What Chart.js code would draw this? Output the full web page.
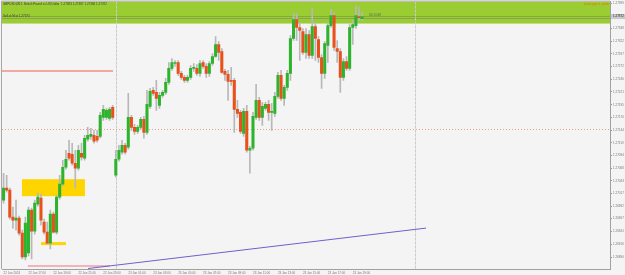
<!DOCTYPE html>
<html>
<head>
<meta charset="utf-8">
<script src="https://cdn.jsdelivr.net/npm/chart.js@4.4.1/dist/chart.umd.min.js"></script>
<style>
  html, body { margin: 0; padding: 0; background: #f4f4f4; }
  canvas { display: block; }
</style>
</head>
<body>
<canvas id="chart" width="625" height="275"></canvas>
<script>
// GBPUSD M15 candles
const opens = [
  1.27004, 1.27028, 1.27024, 1.26970, 1.26964, 1.26968, 1.26938, 1.26890, 1.26898, 1.26984,
  1.26942, 1.26996, 1.27008, 1.26960, 1.26940, 1.26918, 1.26976, 1.26940, 1.27010, 1.27036,
  1.27070, 1.27098, 1.27096, 1.27078, 1.27068, 1.27098, 1.27088, 1.27126, 1.27132, 1.27134,
  1.27132, 1.27132, 1.27170, 1.27170, 1.27168, 1.27190, 1.27054, 1.27086, 1.27100, 1.27114,
  1.27110, 1.27170, 1.27150, 1.27142, 1.27150, 1.27166, 1.27140, 1.27192, 1.27224, 1.27220,
  1.27194, 1.27214, 1.27220, 1.27240, 1.27268, 1.27278, 1.27280, 1.27258, 1.27250, 1.27244,
  1.27250, 1.27268, 1.27268, 1.27258, 1.27280, 1.27272, 1.27258, 1.27278, 1.27292, 1.27316,
  1.27302, 1.27262, 1.27256, 1.27244, 1.27244, 1.27186, 1.27180, 1.27138, 1.27182, 1.27104,
  1.27108, 1.27170, 1.27204, 1.27170, 1.27188, 1.27196, 1.27180, 1.27178, 1.27212, 1.27254,
  1.27208, 1.27230, 1.27258, 1.27328, 1.27366, 1.27350, 1.27342, 1.27300, 1.27336, 1.27294,
  1.27352, 1.27326, 1.27290, 1.27258, 1.27314, 1.27354, 1.27374, 1.27308, 1.27302, 1.27250,
  1.27282, 1.27268, 1.27350, 1.27354, 1.27372, 1.27368
];
const highs = [
  1.27058, 1.27054, 1.27028, 1.26990, 1.27004, 1.26972, 1.26944, 1.26970, 1.26990, 1.26988,
  1.27004, 1.27018, 1.27016, 1.26966, 1.26960, 1.26984, 1.26980, 1.27014, 1.27054, 1.27084,
  1.27104, 1.27124, 1.27118, 1.27104, 1.27114, 1.27118, 1.27134, 1.27150, 1.27148, 1.27144,
  1.27144, 1.27180, 1.27194, 1.27188, 1.27190, 1.27194, 1.27104, 1.27114, 1.27124, 1.27118,
  1.27218, 1.27174, 1.27156, 1.27154, 1.27170, 1.27172, 1.27224, 1.27228, 1.27230, 1.27244,
  1.27220, 1.27224, 1.27248, 1.27280, 1.27288, 1.27284, 1.27284, 1.27262, 1.27254, 1.27254,
  1.27274, 1.27278, 1.27276, 1.27284, 1.27284, 1.27278, 1.27282, 1.27298, 1.27332, 1.27322,
  1.27308, 1.27266, 1.27264, 1.27270, 1.27248, 1.27204, 1.27184, 1.27188, 1.27194, 1.27112,
  1.27180, 1.27236, 1.27210, 1.27200, 1.27200, 1.27204, 1.27198, 1.27220, 1.27260, 1.27264,
  1.27234, 1.27264, 1.27334, 1.27378, 1.27378, 1.27360, 1.27348, 1.27348, 1.27344, 1.27388,
  1.27360, 1.27332, 1.27296, 1.27322, 1.27360, 1.27386, 1.27380, 1.27324, 1.27308, 1.27288,
  1.27292, 1.27356, 1.27364, 1.27394, 1.27390, 1.27380
];
const lows = [
  1.26998, 1.27020, 1.26966, 1.26948, 1.26944, 1.26934, 1.26886, 1.26884, 1.26892, 1.26886,
  1.26936, 1.26992, 1.26954, 1.26936, 1.26916, 1.26906, 1.26938, 1.26936, 1.27006, 1.27032,
  1.27066, 1.27084, 1.27074, 1.27028, 1.27064, 1.27084, 1.27084, 1.27122, 1.27126, 1.27118,
  1.27120, 1.27128, 1.27164, 1.27166, 1.27164, 1.27166, 1.27050, 1.27082, 1.27096, 1.27096,
  1.27106, 1.27144, 1.27136, 1.27138, 1.27146, 1.27128, 1.27136, 1.27188, 1.27214, 1.27184,
  1.27188, 1.27210, 1.27216, 1.27236, 1.27264, 1.27272, 1.27254, 1.27246, 1.27240, 1.27240,
  1.27246, 1.27262, 1.27254, 1.27252, 1.27268, 1.27250, 1.27252, 1.27274, 1.27290, 1.27284,
  1.27258, 1.27244, 1.27204, 1.27234, 1.27140, 1.27170, 1.27138, 1.27132, 1.27100, 1.27058,
  1.27104, 1.27166, 1.27164, 1.27154, 1.27184, 1.27164, 1.27144, 1.27172, 1.27208, 1.27204,
  1.27194, 1.27224, 1.27244, 1.27324, 1.27324, 1.27284, 1.27296, 1.27288, 1.27288, 1.27288,
  1.27284, 1.27280, 1.27228, 1.27248, 1.27280, 1.27350, 1.27304, 1.27280, 1.27220, 1.27244,
  1.27264, 1.27264, 1.27316, 1.27348, 1.27364, 1.27364
];
const closes = [
  1.27028, 1.27024, 1.26970, 1.26964, 1.26968, 1.26938, 1.26890, 1.26958, 1.26984, 1.26942,
  1.26998, 1.27010, 1.26964, 1.26940, 1.26918, 1.26976, 1.26940, 1.27010, 1.27036, 1.27070,
  1.27086, 1.27088, 1.27078, 1.27068, 1.27104, 1.27090, 1.27128, 1.27134, 1.27136, 1.27122,
  1.27124, 1.27174, 1.27186, 1.27184, 1.27186, 1.27170, 1.27086, 1.27104, 1.27114, 1.27100,
  1.27170, 1.27150, 1.27142, 1.27150, 1.27166, 1.27140, 1.27196, 1.27222, 1.27218, 1.27208,
  1.27214, 1.27220, 1.27240, 1.27268, 1.27280, 1.27280, 1.27258, 1.27250, 1.27244, 1.27250,
  1.27268, 1.27270, 1.27258, 1.27278, 1.27272, 1.27258, 1.27278, 1.27292, 1.27316, 1.27300,
  1.27260, 1.27256, 1.27242, 1.27242, 1.27186, 1.27178, 1.27142, 1.27182, 1.27104, 1.27108,
  1.27172, 1.27204, 1.27170, 1.27192, 1.27196, 1.27180, 1.27182, 1.27212, 1.27254, 1.27208,
  1.27230, 1.27258, 1.27328, 1.27366, 1.27350, 1.27344, 1.27300, 1.27336, 1.27294, 1.27352,
  1.27328, 1.27290, 1.27258, 1.27318, 1.27354, 1.27374, 1.27310, 1.27302, 1.27250, 1.27282,
  1.27268, 1.27350, 1.27356, 1.27374, 1.27370, 1.27372
];

// axis labels
const timeLabels = [
  '22 Jan 2024', '22 Jan 17:00', '22 Jan 19:00', '22 Jan 21:00', '22 Jan 23:00',
  '23 Jan 01:00', '23 Jan 03:00', '23 Jan 05:00', '23 Jan 07:00', '23 Jan 09:00',
  '23 Jan 11:00', '23 Jan 13:00', '23 Jan 15:00', '23 Jan 17:00', '23 Jan 19:00'
];
const priceTicks = [
  1.27399, 1.27373, 1.27348, 1.27322, 1.27297, 1.27272, 1.27246, 1.27221, 1.27195, 1.27170,
  1.27144, 1.27119, 1.27094, 1.27068, 1.27043, 1.27017, 1.26992, 1.26967, 1.26941, 1.26916, 1.26890
];
const slotCount = 195;   // bars that fit in the window (incl. chart shift)
const barsPerLabel = 8;

// objects drawn on the chart (bar index / price)
const daySeparators = [36, 132];
const signalBand = [1.27402, 1.27358];
const bidAskLines = [1.27374, 1.27370];
const zoneBoxes = [
  { from: 5.9, to: 26.1, top: 1.27046, bottom: 1.27012 },
  { from: 12.0, to: 20.0, top: 1.26920, bottom: 1.26914 }
];
const resistanceLine = { from: -0.5, to: 35.1, price: 1.27262 };
const supportLine = { from: 7.8, to: 34.1, price: 1.26873 };
const pivotLevel = 1.27146;
const trendLine = [{ x: 27.1, y: 1.26867 }, { x: 135.5, y: 1.26948 }];

const headerText = 'GBPUSD,M15  British Pound vs US Dollar  1.27383 1.27387 1.27368 1.27372';
const orderText = 'Sell at M at 1.27374';
const spreadText = 'Jarak gap m: yakin';
const timerText = '06:14:48';

const UP = '#2cb52c';
const DOWN = '#e8501c';
const FONT = 'Liberation Sans, Arial, sans-serif';

const categories = Array.from({ length: slotCount }, (_, i) => String(i));
const bodies = opens.map((o, i) => [o, closes[i]]);
const wicks = lows.map((l, i) => [l, highs[i]]);
const bodyColors = opens.map((o, i) => closes[i] >= o ? UP : DOWN);

// horizontal segment between two bar positions at one price
function hLine(ctx, x, y, from, to, price, width) {
  const py = Math.round(y.getPixelForValue(price)) + (width % 2 ? 0.5 : 0);
  ctx.lineWidth = width;
  ctx.beginPath();
  ctx.moveTo(x.getPixelForValue(from), py);
  ctx.lineTo(x.getPixelForValue(to), py);
  ctx.stroke();
}

const overlayPlugin = {
  id: 'overlay',
  beforeDatasetsDraw(chart) {
    const { ctx, chartArea: a, scales: { x, y } } = chart;
    const w = a.right - a.left;
    ctx.save();

    // green signal band at the top
    const bt = y.getPixelForValue(signalBand[0]);
    const bb = y.getPixelForValue(signalBand[1]);
    ctx.fillStyle = '#9acd32';
    ctx.fillRect(a.left, bt, w, bb - bt);
    ctx.strokeStyle = 'rgba(110,120,100,0.45)';
    bidAskLines.forEach(p => hLine(ctx, x, y, -0.5, slotCount - 0.5, p, 1));

    // yellow zones
    ctx.fillStyle = '#ffd500';
    zoneBoxes.forEach(z => {
      const x1 = x.getPixelForValue(z.from), x2 = x.getPixelForValue(z.to);
      const y1 = y.getPixelForValue(z.top), y2 = y.getPixelForValue(z.bottom);
      ctx.fillRect(x1, y1, x2 - x1, y2 - y1);
    });

    // period separators
    ctx.strokeStyle = '#cacaca';
    ctx.lineWidth = 1;
    ctx.setLineDash([3, 1]);
    daySeparators.forEach(i => {
      const px = Math.round(x.getPixelForValue(i)) + 0.5;
      ctx.beginPath(); ctx.moveTo(px, a.top); ctx.lineTo(px, a.bottom); ctx.stroke();
    });

    // dotted pivot level
    ctx.strokeStyle = '#eca090';
    ctx.setLineDash([1, 2]);
    hLine(ctx, x, y, -0.5, slotCount - 0.5, pivotLevel, 1);
    ctx.setLineDash([]);

    // short horizontal levels
    ctx.strokeStyle = '#f2a8a0';
    hLine(ctx, x, y, resistanceLine.from, resistanceLine.to, resistanceLine.price, 2);
    ctx.strokeStyle = '#f4b2bc';
    hLine(ctx, x, y, supportLine.from, supportLine.to, supportLine.price, 2);
    ctx.restore();
  },
  afterDatasetsDraw(chart) {
    const { ctx, chartArea: a, scales: { x, y } } = chart;
    ctx.save();

    // trend line
    ctx.strokeStyle = '#6a62cc';
    ctx.lineWidth = 1;
    ctx.beginPath();
    ctx.moveTo(x.getPixelForValue(trendLine[0].x), y.getPixelForValue(trendLine[0].y));
    ctx.lineTo(x.getPixelForValue(trendLine[1].x), y.getPixelForValue(trendLine[1].y));
    ctx.stroke();

    // frame (left / top)
    ctx.strokeStyle = '#a8a8a8';
    ctx.beginPath();
    ctx.moveTo(a.left - 0.5, a.bottom); ctx.lineTo(a.left - 0.5, a.top - 0.5); ctx.lineTo(a.right, a.top - 0.5);
    ctx.stroke();

    // texts
    ctx.textBaseline = 'middle';
    ctx.font = '3px ' + FONT;
    ctx.fillStyle = '#3a3a3a';
    ctx.textAlign = 'left';
    ctx.fillText(headerText, a.left + 1, a.top + 2.5);
    ctx.fillText(orderText, a.left + 1, y.getPixelForValue(bidAskLines[0]) + 0.5);
    ctx.fillStyle = '#4f6b4f';
    ctx.fillText(timerText, x.getPixelForValue(opens.length - 1) + 7, y.getPixelForValue(bidAskLines[0]));
    ctx.fillStyle = '#e07a00';
    ctx.textAlign = 'right';
    ctx.fillText(spreadText, a.right - 1, a.top + 2.5);

    // current price tag on the axis
    const last = closes[closes.length - 1];
    const ly = y.getPixelForValue(last);
    ctx.fillStyle = '#c9c9c9';
    ctx.fillRect(a.right + 1, ly - 2.5, 14, 5);
    ctx.fillStyle = '#222';
    ctx.textAlign = 'left';
    ctx.fillText(last.toFixed(5), a.right + 3, ly);
    ctx.restore();
  }
};

new Chart(document.getElementById('chart'), {
  type: 'bar',
  data: {
    labels: categories,
    datasets: [
      {
        label: 'body',
        data: bodies,
        backgroundColor: bodyColors,
        barThickness: 2.4,
        minBarLength: 1,
        grouped: false
      },
      {
        label: 'wick',
        data: wicks,
        backgroundColor: '#b8b8b8',
        barThickness: 1,
        grouped: false
      }
    ]
  },
  options: {
    responsive: false,
    animation: false,
    layout: { padding: { left: 2, top: 1, right: 0, bottom: 0 } },
    plugins: { legend: { display: false }, tooltip: { enabled: false } },
    scales: {
      x: {
        type: 'category',
        offset: true,
        grid: {
          drawOnChartArea: false,
          tickLength: 1,
          color: ctx => ctx.index % barsPerLabel === 0 ? '#9a9a9a' : 'rgba(0,0,0,0)'
        },
        border: { color: '#a0a0a0' },
        ticks: {
          autoSkip: false,
          maxRotation: 0,
          align: 'start',
          padding: 1,
          color: '#777',
          font: { family: FONT, size: 3 },
          callback: (v, i) => i % barsPerLabel === 0 ? (timeLabels[i / barsPerLabel] || '') : ''
        },
        afterFit: scale => { scale.height = 6; }
      },
      y: {
        position: 'right',
        min: 1.26866,
        max: 1.27402,
        grid: { drawOnChartArea: false, tickLength: 2, color: '#9a9a9a' },
        border: { color: '#a0a0a0' },
        ticks: {
          padding: 1,
          color: '#777',
          font: { family: FONT, size: 3, lineHeight: 0.4 },
          callback: v => v.toFixed(5)
        },
        afterBuildTicks: scale => { scale.ticks = priceTicks.map(v => ({ value: v })); },
        afterFit: scale => { scale.width = 15; }
      }
    }
  },
  plugins: [overlayPlugin]
});
</script>
</body>
</html>
